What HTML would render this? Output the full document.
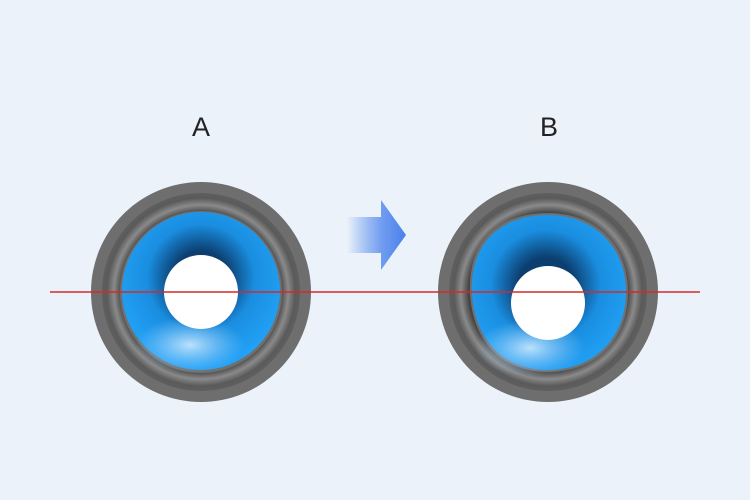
<!DOCTYPE html><html><head><style>body{margin:0;background:#ebf2f9}</style></head><body>
<svg width="750" height="500" viewBox="0 0 750 500" xmlns="http://www.w3.org/2000/svg" style="display:block">
<defs>
<radialGradient id="ring" cx="50%" cy="50%" r="50%"><stop offset="0.8" stop-color="#444"/><stop offset="0.88" stop-color="#8a8a8a"/><stop offset="0.95" stop-color="#5a5a5a"/><stop offset="1" stop-color="#5f5f5f"/></radialGradient>
<radialGradient id="coneA" cx="201" cy="278" r="90" gradientUnits="userSpaceOnUse"><stop offset="0.3" stop-color="#0c3f70"/><stop offset="0.6" stop-color="#1a8ee0"/><stop offset="1" stop-color="#22a2f7"/></radialGradient>
<radialGradient id="coneB" cx="546" cy="285" r="92" gradientUnits="userSpaceOnUse"><stop offset="0.3" stop-color="#0c3f70"/><stop offset="0.6" stop-color="#1a8ee0"/><stop offset="1" stop-color="#22a2f7"/></radialGradient>
<radialGradient id="hl" cx="0.5" cy="0.5" r="0.5"><stop offset="0" stop-color="#d8efff" stop-opacity="0.85"/><stop offset="1" stop-color="#9fd4ff" stop-opacity="0"/></radialGradient>
<linearGradient id="arr" x1="0" x2="1"><stop offset="0" stop-color="#5a8ef0" stop-opacity="0"/><stop offset="0.6" stop-color="#6f9cf0"/><stop offset="1" stop-color="#4a80ec"/></linearGradient>
</defs>
<text x="201" y="136" font-family="Liberation Sans,sans-serif" font-size="27" text-anchor="middle" fill="#222">A</text>
<text x="549" y="136" font-family="Liberation Sans,sans-serif" font-size="27" text-anchor="middle" fill="#222">B</text>
<circle cx="201" cy="292" r="110" fill="#6e6e6e"/>
<circle cx="201" cy="292" r="99" fill="url(#ring)"/>
<circle cx="201" cy="292" r="81" fill="#707070"/>
<circle cx="201" cy="291" r="79" fill="url(#coneA)"/>
<ellipse cx="190" cy="345" rx="55" ry="28" fill="url(#hl)"/>
<circle cx="201" cy="292" r="37" fill="#fff"/>
<circle cx="548" cy="292" r="110" fill="#6e6e6e"/>
<circle cx="548" cy="292" r="99" fill="url(#ring)"/>
<path d="M470 292 C468 240 500 213 548 213 C596 213 628 245 628 292 C628 340 596 372 548 372 C500 372 472 340 470 292Z" fill="#707070"/>
<path d="M472 292 C470 242 502 215 548 215 C594 215 626 247 626 292 C626 338 594 370 548 370 C502 370 474 338 472 292Z" fill="url(#coneB)"/>
<ellipse cx="530" cy="348" rx="55" ry="28" fill="url(#hl)"/>
<circle cx="548" cy="303" r="37" fill="#fff"/>
<line x1="50" y1="292" x2="700" y2="292" stroke="#d42a2a" stroke-width="1.5"/>
<path d="M347 217 H381 V200 L406 235 L381 270 V253 H347Z" fill="url(#arr)"/>
</svg></body></html>
